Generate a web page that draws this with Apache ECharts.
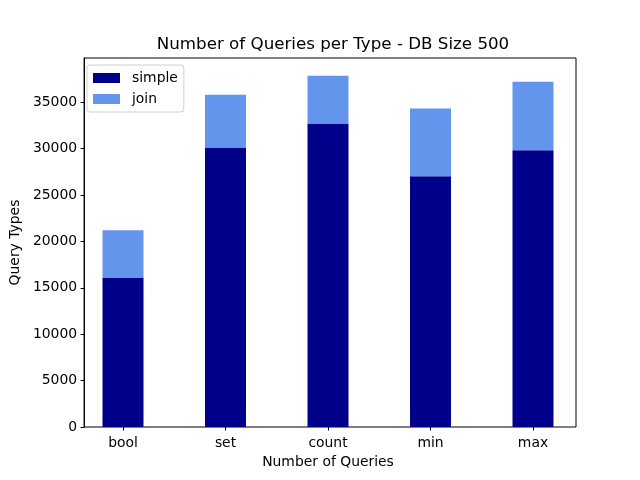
<!DOCTYPE html>
<html>
<head>
<meta charset="utf-8">
<script src="https://cdn.jsdelivr.net/npm/echarts@6/dist/echarts.min.js"></script>
<style>html,body{margin:0;padding:0;background:#fff}#c{width:640px;height:480px}</style>
</head>
<body>
<div id="c"></div>
<script>
var categories = ['bool', 'set', 'count', 'min', 'max'];
var simpleValues = [16100, 30100, 32700, 27000, 29800];
var joinValues = [5100, 5700, 5150, 7300, 7400];
var yTicksInterval = 5000;
var yMax = 39750;

var font = 'DejaVu Sans';
var chart = echarts.init(document.getElementById('c'), null, {renderer: 'canvas'});
chart.setOption({
  backgroundColor: '#fff',
  animation: false,
  textStyle: {fontFamily: font},
  title: {
    text: 'Number of Queries per Type - DB Size 500',
    left: 328, top: 31, textAlign: 'center',
    textStyle: {fontFamily: font, fontSize: 16.7, fontWeight: 'normal', color: '#000'}
  },
  legend: {
    orient: 'vertical', left: 87, top: 65,
    data: ['simple', 'join'],
    icon: 'rect', itemWidth: 27, itemHeight: 10, itemGap: 7,
    padding: [6, 6, 6, 6],
    borderColor: '#d0d0d0', borderWidth: 1, borderRadius: 3,
    backgroundColor: 'rgba(255,255,255,0.8)',
    textStyle: {fontFamily: font, fontSize: 13.9, color: '#000', padding: [0, 0, 0, 7]}
  },
  grid: [
    {left: 80, right: 64, top: 58, bottom: 53, show: true, borderColor: '#000', borderWidth: 1, backgroundColor: 'transparent', containLabel: false},
    {left: 71.75, width: 512.5, top: 58, bottom: 53, containLabel: false}
  ],
  xAxis: [
    {gridIndex: 0, type: 'value', min: 0, max: 1, show: false},
    {
      gridIndex: 1, type: 'category', data: categories,
      name: 'Number of Queries', nameLocation: 'middle', nameGap: 28,
      nameTextStyle: {fontFamily: font, fontSize: 13.9, color: '#000'},
      axisLine: {show: false},
      axisTick: {show: true, alignWithLabel: true, interval: 0, length: 3.5, lineStyle: {color: '#000'}},
      axisLabel: {interval: 0, margin: 9, fontFamily: font, fontSize: 13.9, color: '#000'},
      splitLine: {show: false}
    }
  ],
  yAxis: [
    {
      gridIndex: 0, type: 'value', min: 0, max: yMax, interval: yTicksInterval,
      name: 'Query Types', nameLocation: 'middle', nameGap: 58,
      nameTextStyle: {fontFamily: font, fontSize: 13.9, color: '#000'},
      axisLine: {show: true, lineStyle: {color: '#000'}},
      axisTick: {show: true, inside: false, length: 3.5, lineStyle: {color: '#000'}},
      axisLabel: {showMaxLabel: false, margin: 7, fontFamily: font, fontSize: 13.9, color: '#000',
        formatter: function (v) { return String(v); }},
      splitLine: {show: false}
    },
    {gridIndex: 1, type: 'value', min: 0, max: yMax, show: false}
  ],
  series: [
    {name: 'simple', type: 'bar', stack: 'q', xAxisIndex: 1, yAxisIndex: 1, data: simpleValues, barWidth: '40%', itemStyle: {color: '#00008b'}},
    {name: 'join', type: 'bar', stack: 'q', xAxisIndex: 1, yAxisIndex: 1, data: joinValues, barWidth: '40%', itemStyle: {color: '#6495ed'}}
  ]
});
</script>
</body>
</html>
